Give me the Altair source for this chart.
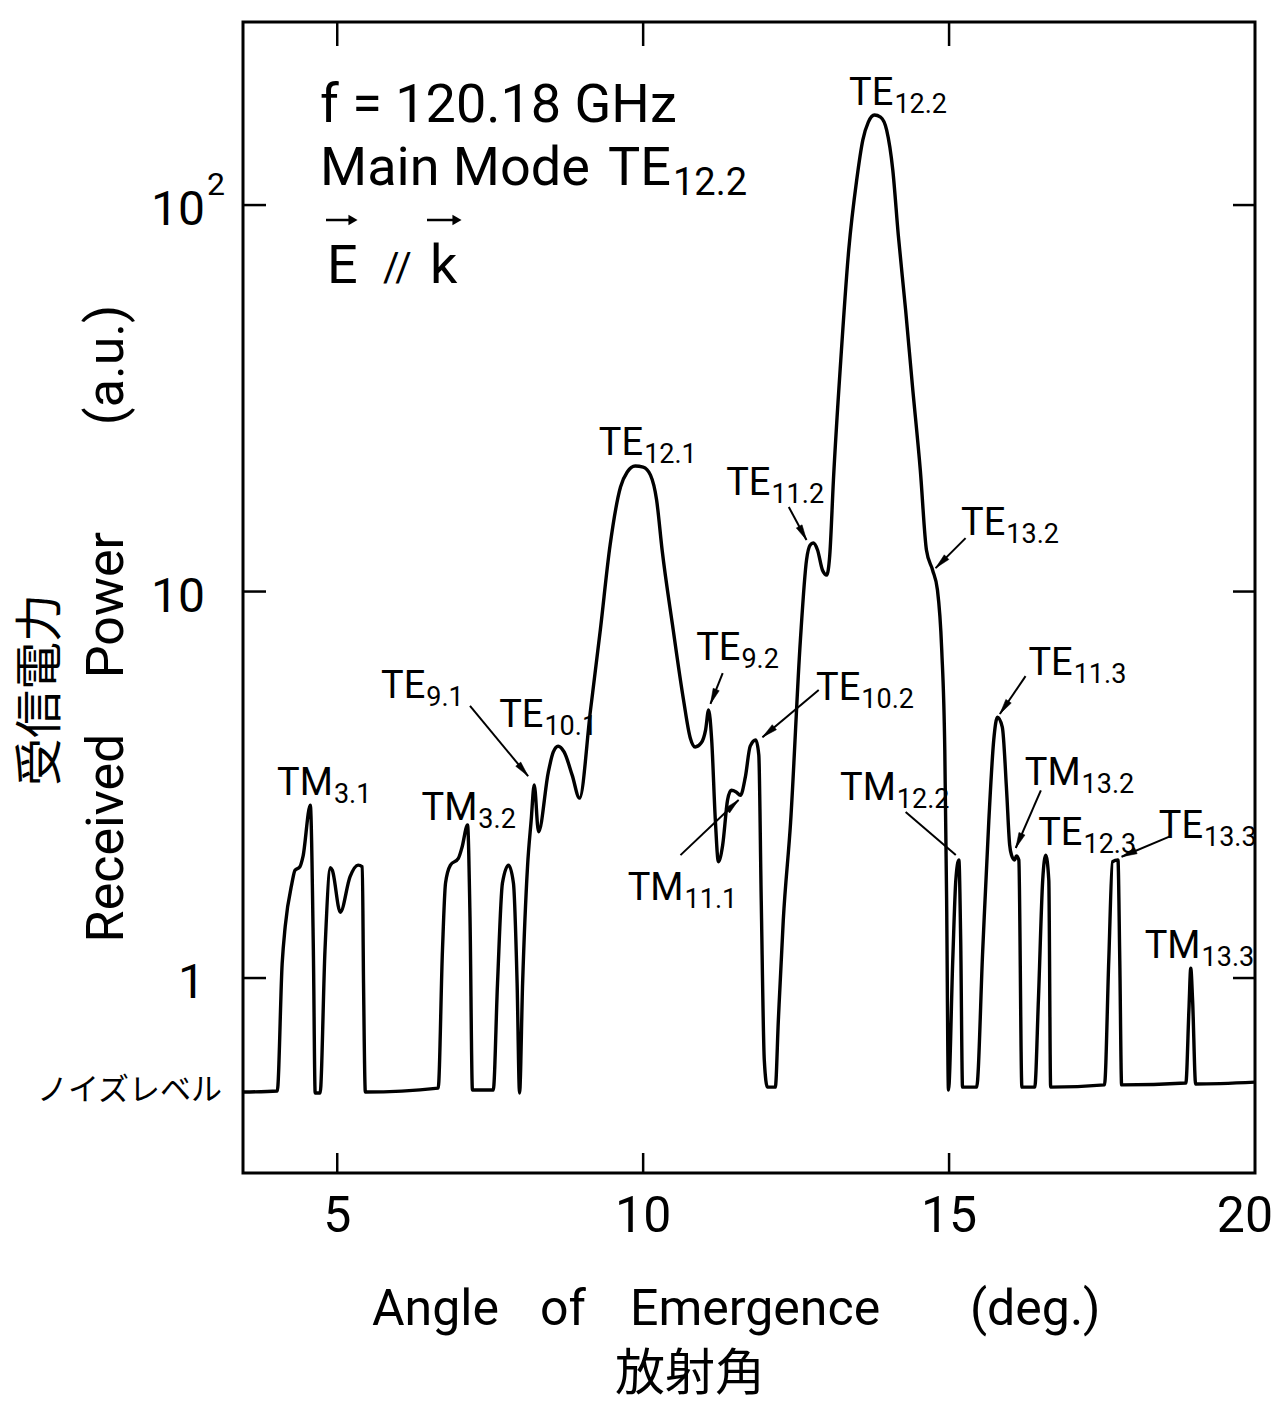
import math
import altair as alt
import pandas as pd

# ---------------------------------------------------------------------------
# Received power vs. angle of emergence, f = 120.18 GHz, main mode TE12.2
# ---------------------------------------------------------------------------
angle_deg = [
    3.46, 4.02, 4.10, 4.15, 4.26, 4.31, 4.39, 4.44, 4.56, 4.61,
    4.64, 4.72, 4.80, 4.89, 4.92, 5.05, 5.21, 5.34, 5.41, 5.43,
    5.46, 6.65, 6.72, 6.77, 6.85, 6.98, 7.04, 7.13, 7.17, 7.21,
    7.55, 7.62, 7.70, 7.80, 7.88, 7.94, 7.98, 8.03, 8.11, 8.17,
    8.22, 8.29, 8.45, 8.53, 8.61, 8.71, 8.84, 8.96, 9.14, 9.30,
    9.46, 9.63, 9.74, 9.87, 10.00, 10.12, 10.22, 10.31, 10.48, 10.66,
    10.77, 10.85, 10.95, 11.02, 11.07, 11.12, 11.18, 11.23, 11.30, 11.38,
    11.44, 11.52, 11.59, 11.67, 11.75, 11.84, 11.89, 11.93, 11.98, 12.03,
    12.16, 12.21, 12.29, 12.41, 12.57, 12.67, 12.73, 12.78, 12.85, 12.93,
    13.00, 13.05, 13.11, 13.23, 13.36, 13.49, 13.59, 13.68, 13.78, 13.88,
    13.98, 14.08, 14.17, 14.29, 14.40, 14.53, 14.63, 14.73, 14.81, 14.88,
    14.93, 14.96, 14.99, 15.06, 15.11, 15.16, 15.19, 15.22, 15.45, 15.55,
    15.65, 15.73, 15.79, 15.87, 15.94, 15.99, 16.02, 16.07, 16.10, 16.14,
    16.19, 16.40, 16.46, 16.53, 16.58, 16.63, 16.66, 17.54, 17.61, 17.67,
    17.76, 17.79, 17.82, 18.87, 18.92, 18.95, 18.98, 19.03, 20.00,
]
power_au = [
    0.507, 0.510, 1.09, 1.36, 1.76, 1.90, 1.94, 2.06, 2.80, 1.18,
    0.504, 0.504, 1.18, 1.93, 1.90, 1.48, 1.83, 1.96, 1.94, 0.97,
    0.507, 0.519, 1.18, 1.76, 1.96, 2.04, 2.18, 2.49, 1.44, 0.513,
    0.513, 0.97, 1.76, 1.96, 1.76, 0.97, 0.504, 0.97, 1.94, 2.56,
    3.16, 2.39, 3.41, 3.84, 3.98, 3.84, 3.35, 2.92, 4.94, 7.95,
    13.19, 18.64, 20.38, 21.12, 20.99, 20.01, 17.25, 12.81, 8.19, 5.24,
    4.18, 3.96, 4.06, 4.38, 4.94, 4.13, 2.56, 2.00, 2.21, 2.89,
    3.06, 3.03, 2.97, 3.31, 3.98, 4.13, 3.78, 1.59, 0.613, 0.522,
    0.522, 0.779, 1.41, 2.53, 7.49, 12.06, 13.19, 13.35, 12.81, 11.37,
    11.03, 12.43, 19.44, 39.7, 76.5, 116.1, 147.3, 163.9, 171.0, 168.9,
    156.3, 123.2, 83.6, 53.5, 34.2, 20.6, 12.81, 11.37, 10.09, 7.06,
    3.89, 1.59, 0.513, 1.11, 1.79, 2.02, 1.25, 0.522, 0.522, 1.18,
    2.56, 4.13, 4.73, 4.46, 3.06, 2.21, 2.08, 2.02, 2.07, 2.02,
    0.522, 0.522, 0.877, 1.79, 2.08, 1.79, 0.522, 0.529, 1.11, 2.00,
    2.02, 1.11, 0.529, 0.535, 0.827, 1.06, 0.877, 0.532, 0.538,
]

noise_level = 0.51

x_ticks = [5, 10, 15]
x_tick_labels = ["5", "10", "15"]
x_last_label = "20"
x_last_value = 20
y_ticks = [1, 10, 100]
y_tick_labels = ["1", "10", "10"]

# Mode labels: name, subscript, junction angle, baseline power
mode_names = ["TM", "TM", "TE", "TE", "TE", "TE", "TE", "TE", "TM",
              "TE", "TE", "TM", "TE", "TM", "TE", "TE", "TM"]
mode_subs = ["3.1", "3.2", "9.1", "10.1", "12.1", "9.2", "11.2", "10.2", "11.1",
             "12.2", "13.2", "12.2", "11.3", "13.2", "12.3", "13.3", "13.3"]
mode_x = [4.93, 7.29, 6.44, 8.37, 10.00, 11.59, 12.08, 13.55, 10.66,
          14.09, 15.92, 14.13, 17.02, 17.15, 17.18, 19.15, 19.11]
mode_y = [2.98, 2.56, 5.30, 4.46, 22.6, 6.65, 17.8, 5.24, 1.59,
          181.0, 14.0, 2.89, 6.08, 3.16, 2.21, 2.30, 1.13]

# Leader lines: tail (near label) -> tip (on the trace)
lead_x0 = [7.17, 11.30, 12.87, 10.61, 12.38, 15.27, 14.29, 16.25, 16.50, 18.62]
lead_y0 = [5.06, 6.15, 5.56, 2.08, 16.55, 13.75, 2.69, 6.04, 3.06, 2.33]
lead_x1 = [8.12, 11.10, 11.95, 11.56, 12.67, 14.78, 15.11, 15.83, 16.09, 17.82]
lead_y1 = [3.33, 5.12, 4.20, 2.89, 13.59, 11.50, 2.08, 4.82, 2.17, 2.06]
lead_head = [True, True, True, True, True, True, False, True, True, True]

# ---------------------------------------------------------------------------
W, H = 1012, 1151
X_DOMAIN = [3.46, 20.0]
Y_DOMAIN = [0.313, 297.6]

FONT = "Roboto, Liberation Sans, sans-serif"
JP = "Noto Sans CJK JP"

xs = alt.Scale(domain=X_DOMAIN, nice=False, zero=False)
ys = alt.Scale(type="log", domain=Y_DOMAIN, nice=False)


def X(field):
    return alt.X(field, type="quantitative", scale=xs, axis=None)


def Y(field):
    return alt.Y(field, type="quantitative", scale=ys, axis=None)


def to_px(x, y):
    lx0, lx1 = math.log10(Y_DOMAIN[0]), math.log10(Y_DOMAIN[1])
    px = (x - X_DOMAIN[0]) / (X_DOMAIN[1] - X_DOMAIN[0]) * W
    py = (lx1 - math.log10(y)) / (lx1 - lx0) * H
    return px, py


trace = alt.Chart(pd.DataFrame({"angle": angle_deg, "power": power_au})).mark_line(
    color="black", strokeWidth=3.4, interpolate="monotone", strokeJoin="round"
).encode(x=X("angle"), y=Y("power"))

# Inward tick marks on all four sides
xt = pd.DataFrame({"v": x_ticks})
yt = pd.DataFrame({"v": y_ticks})
tick_style = dict(color="black", strokeWidth=2.5)
ticks = [
    alt.Chart(xt).mark_rule(**tick_style).encode(x=X("v"), y=alt.value(H), y2=alt.value(H - 20)),
    alt.Chart(xt).mark_rule(**tick_style).encode(x=X("v"), y=alt.value(0), y2=alt.value(24)),
    alt.Chart(yt).mark_rule(**tick_style).encode(y=Y("v"), x=alt.value(0), x2=alt.value(23)),
    alt.Chart(yt).mark_rule(**tick_style).encode(y=Y("v"), x=alt.value(W), x2=alt.value(W - 22)),
]

# Tick labels
x_labels = alt.Chart(pd.DataFrame({"v": x_ticks, "t": x_tick_labels})).mark_text(
    font=FONT, fontSize=50, align="center", baseline="middle", color="black"
).encode(x=X("v"), y=alt.value(H + 44), text="t:N")
x_last = alt.Chart(pd.DataFrame({"v": [x_last_value], "t": [x_last_label]})).mark_text(
    font=FONT, fontSize=50, align="right", baseline="middle", dx=18, color="black"
).encode(x=X("v"), y=alt.value(H + 44), text="t:N")

y_labels = alt.Chart(pd.DataFrame({"v": y_ticks, "t": y_tick_labels})).mark_text(
    font=FONT, fontSize=48, align="right", baseline="middle", dy=6, color="black"
).encode(x=alt.value(-38), y=Y("v"), text="t:N")

y_exp = alt.Chart(pd.DataFrame({"v": [100], "t": ["2"]})).mark_text(
    font=FONT, fontSize=32, align="left", baseline="middle", dy=-20, color="black"
).encode(x=alt.value(-36), y=Y("v"), text="t:N")

noise_label = alt.Chart(pd.DataFrame({"v": [noise_level], "t": ["ノイズレベル"]})).mark_text(
    font=JP, fontSize=31, align="right", baseline="middle", color="black"
).encode(x=alt.value(-21), y=Y("v"), text="t:N")


def text_at(txt, x, y, size, align="left", baseline="alphabetic", angle=0, font=FONT):
    return alt.Chart(pd.DataFrame({"t": [txt]})).mark_text(
        font=font, fontSize=size, align=align, baseline=baseline, angle=angle, color="black"
    ).encode(x=alt.value(x), y=alt.value(y), text="t:N")


titles = [
    text_at("Angle", 129, 1303, 50),
    text_at("of", 297, 1303, 50),
    text_at("Emergence", 387, 1303, 50),
    text_at("(deg.)", 727, 1303, 50),
    text_at("放射角", 447, 1353, 50, align="center", baseline="middle", font=JP),
    text_at("Received", -136, 816, 52, align="center", baseline="middle", angle=270),
    text_at("Power", -136, 583, 52, align="center", baseline="middle", angle=270),
    text_at("(a.u.)", -136, 343, 52, align="center", baseline="middle", angle=270),
    text_at("受信電力", -201, 668, 48, align="center", baseline="middle", angle=270, font=JP),
]

# Condition block in the upper left
info = [
    text_at("f = 120.18 GHz", 77, 100, 54),
    text_at("Main  Mode", 77, 163, 54),
    text_at("TE", 428, 163, 54, align="right"),
    text_at("12.2", 430, 173, 38),
    text_at("E", 84, 261, 54),
    text_at("//", 140, 259, 40),
    text_at("k", 187, 261, 54),
]

# Vector arrows over E and k
vec_rules = [
    alt.Chart(pd.DataFrame({"t": [0]})).mark_rule(color="black", strokeWidth=2.5).encode(
        x=alt.value(x0), x2=alt.value(x1), y=alt.value(198))
    for x0, x1 in [(83, 110), (184, 214)]
]
vec_heads = [
    alt.Chart(pd.DataFrame({"t": [0]})).mark_point(
        shape="triangle-right", filled=True, fill="black", size=110, opacity=1
    ).encode(x=alt.value(xh), y=alt.value(198))
    for xh in [110, 214]
]

# Mode labels with subscripts
modes = pd.DataFrame({"name": mode_names, "sub": mode_subs, "x": mode_x, "y": mode_y})
mode_main = alt.Chart(modes).mark_text(
    font=FONT, fontSize=38, align="right", baseline="alphabetic", color="black"
).encode(x=X("x"), y=Y("y"), text="name:N")
mode_sub = alt.Chart(modes).mark_text(
    font=FONT, fontSize=27, align="left", baseline="alphabetic", dx=1, dy=8, color="black"
).encode(x=X("x"), y=Y("y"), text="sub:N")

# Leader lines and arrowheads
rows = []
for x0, y0, x1, y1, head in zip(lead_x0, lead_y0, lead_x1, lead_y1, lead_head):
    p0, p1 = to_px(x0, y0), to_px(x1, y1)
    dx, dy = p1[0] - p0[0], p1[1] - p0[1]
    rot = math.degrees(math.atan2(-dx, dy)) % 360
    rows.append({"x0": x0, "y0": y0, "x1": x1, "y1": y1, "rot": rot, "head": head})
leads = pd.DataFrame(rows)

lead_lines = alt.Chart(leads).mark_rule(color="black", strokeWidth=2).encode(
    x=X("x0"), y=Y("y0"), x2="x1:Q", y2="y1:Q"
)
heads = alt.Chart(leads[leads["head"]]).mark_point(
    shape="M0,0L-0.42,-2L0.42,-2Z", filled=True, fill="black", stroke="black",
    strokeWidth=0.5, size=240, opacity=1
).encode(x=X("x1"), y=Y("y1"), angle=alt.Angle("rot:Q", scale=None))

chart = alt.layer(
    trace, *ticks, x_labels, x_last, y_labels, y_exp, noise_label, *titles, *info,
    *vec_rules, *vec_heads, mode_main, mode_sub, lead_lines, heads
).properties(
    width=W, height=H,
    autosize=alt.AutoSizeParams(type="none"),
    padding={"left": 243, "top": 22, "right": 24, "bottom": 233},
    background="white",
).configure_view(stroke="black", strokeWidth=3)

chart.save("out.html", embed_options={"renderer": "svg", "actions": False})
